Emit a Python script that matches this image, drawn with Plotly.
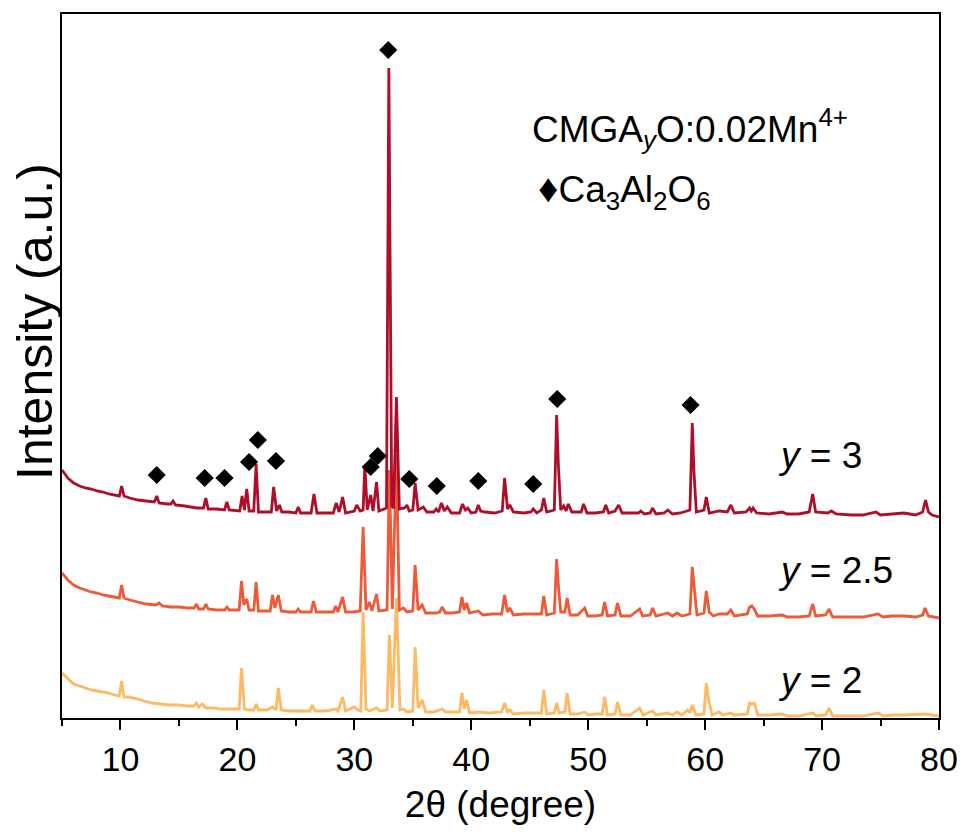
import plotly.graph_objects as go

# ---- data: (2theta in degree, intensity in a.u. incl. stacking offset) ----
pattern_y3 = [
    (5.0, 248), (5.5, 240), (6.0, 235), (6.5, 232), (7.0, 230), (7.5, 229), (8.0, 227), (8.5, 226),
    (9.0, 224), (9.5, 223), (9.9, 222), (10.1, 232), (10.3, 222), (10.8, 220), (11.5, 218), (12.2, 217),
    (12.9, 216), (13.1, 222), (13.3, 215), (14.0, 214), (14.3, 214), (14.5, 217), (14.7, 213), (15.5, 212),
    (16.5, 210), (17.1, 210), (17.3, 220), (17.5, 209), (18.2, 209), (18.9, 208), (19.1, 216), (19.3, 208),
    (20.2, 207), (20.4, 222), (20.6, 208), (20.8, 229), (21.0, 207), (21.4, 207), (21.6, 254), (21.8, 206),
    (22.4, 206), (22.9, 206), (23.1, 231), (23.35, 207), (23.6, 213), (23.8, 206), (24.4, 206), (25.0, 205),
    (25.2, 211), (25.4, 205), (26.3, 205), (26.55, 224), (26.8, 205), (27.5, 205), (28.2, 205), (28.45, 215),
    (28.7, 206), (29.0, 221), (29.25, 205), (30.0, 207), (30.2, 213), (30.5, 207), (30.75, 208), (30.9, 253),
    (31.1, 208), (31.4, 223), (31.6, 207), (31.9, 236), (32.1, 207), (32.75, 210), (32.95, 650), (33.2, 212),
    (33.35, 210), (33.6, 321), (33.85, 209), (34.3, 210), (34.5, 213), (34.7, 207), (35.0, 208), (35.2, 235),
    (35.45, 208), (35.9, 211), (36.2, 206), (36.8, 206), (37.0, 209), (37.2, 206), (37.45, 215), (37.7, 207),
    (37.95, 211), (38.3, 205), (39.0, 205), (39.25, 214), (39.5, 208), (39.7, 210), (40.0, 205), (40.4, 206),
    (40.6, 213), (40.8, 207), (41.2, 206), (42.0, 205), (42.65, 207), (42.85, 240), (43.1, 209), (43.3, 213),
    (43.6, 206), (44.5, 205), (45.1, 206), (45.3, 209), (45.6, 205), (46.0, 208), (46.2, 220), (46.45, 206),
    (47.1, 208), (47.3, 303), (47.45, 253), (47.65, 208), (47.9, 212), (48.1, 207), (48.3, 214), (48.6, 206),
    (49.4, 206), (49.6, 214), (49.9, 205), (50.6, 205), (51.3, 206), (51.5, 213), (51.75, 205), (52.3, 207),
    (52.6, 213), (52.9, 205), (53.6, 205), (54.3, 205), (54.5, 207), (54.8, 204), (55.3, 205), (55.5, 210),
    (55.8, 204), (56.5, 205), (56.8, 208), (57.2, 204), (57.9, 205), (58.7, 208), (58.9, 295), (59.05, 245),
    (59.25, 206), (59.9, 208), (60.1, 221), (60.35, 205), (61.2, 207), (61.9, 206), (62.2, 213), (62.5, 205),
    (63.5, 206), (63.8, 210), (63.95, 207), (64.1, 210), (64.4, 205), (65.5, 204), (66.6, 206), (67.0, 204),
    (68.0, 204), (68.9, 206), (69.2, 224), (69.45, 206), (70.5, 205), (70.8, 207), (71.2, 204), (72.5, 203),
    (73.5, 203), (74.6, 206), (75.0, 203), (76.0, 204), (77.0, 205), (78.0, 203), (78.6, 206), (78.85, 218),
    (79.1, 206), (79.4, 203), (80.0, 201),
]

pattern_y25 = [
    (5.0, 145), (5.5, 138), (6.0, 133), (6.5, 130), (7.0, 128), (7.5, 126), (8.0, 125), (8.5, 123),
    (9.0, 122), (9.5, 121), (9.9, 120), (10.1, 133), (10.3, 120), (10.8, 118), (11.5, 116), (12.2, 114),
    (13.0, 113), (13.3, 115), (13.6, 112), (14.3, 111), (15.0, 111), (15.7, 110), (16.3, 110), (16.5, 114),
    (16.7, 109), (17.1, 109), (17.3, 114), (17.5, 109), (18.2, 108), (18.9, 108), (19.1, 111), (19.3, 108),
    (20.15, 108), (20.35, 137), (20.55, 113), (20.8, 119), (21.0, 108), (21.4, 108), (21.6, 136), (21.8, 107),
    (22.3, 107), (22.8, 107), (23.0, 123), (23.2, 110), (23.5, 123), (23.75, 107), (24.4, 106), (25.0, 106),
    (25.2, 109), (25.4, 106), (26.3, 106), (26.5, 117), (26.75, 106), (27.5, 106), (28.2, 106), (28.4, 112),
    (28.6, 106), (29.0, 121), (29.25, 106), (29.9, 106), (30.5, 107), (30.75, 191), (31.0, 108), (31.3, 116),
    (31.5, 107), (31.9, 124), (32.1, 107), (32.8, 108), (33.0, 248), (33.25, 109), (33.6, 263), (33.85, 108),
    (34.2, 110), (34.5, 106), (35.0, 107), (35.2, 153), (35.45, 108), (35.8, 113), (36.1, 105), (37.0, 105),
    (37.3, 106), (37.5, 111), (37.8, 105), (38.4, 105), (39.0, 106), (39.2, 121), (39.4, 108), (39.6, 115),
    (39.85, 105), (40.6, 107), (41.0, 103), (41.8, 104), (42.6, 104), (42.85, 123), (43.1, 106), (43.3, 110),
    (43.6, 103), (44.5, 104), (45.3, 104), (46.0, 104), (46.2, 122), (46.45, 103), (47.1, 105), (47.3, 159),
    (47.45, 133), (47.65, 106), (48.0, 106), (48.2, 120), (48.45, 103), (49.1, 103), (49.7, 110), (49.95, 102),
    (50.6, 102), (51.2, 103), (51.4, 116), (51.65, 102), (52.3, 103), (52.5, 115), (52.8, 102), (53.6, 102),
    (54.4, 109), (54.65, 102), (55.3, 103), (55.5, 110), (55.8, 102), (56.8, 105), (57.2, 102), (57.6, 105),
    (58.0, 102), (58.7, 104), (58.9, 151), (59.05, 133), (59.3, 103), (59.9, 105), (60.1, 127), (60.35, 106),
    (60.7, 102), (61.2, 104), (61.9, 104), (62.2, 108), (62.5, 102), (63.6, 104), (63.8, 111), (64.0, 112),
    (64.2, 109), (64.5, 102), (65.5, 102), (66.6, 103), (67.0, 101), (68.0, 101), (68.9, 102), (69.2, 114),
    (69.45, 102), (70.3, 103), (70.6, 109), (70.9, 101), (72.0, 101), (73.5, 101), (74.8, 104), (75.2, 101),
    (76.0, 102), (77.0, 102), (78.0, 101), (78.6, 103), (78.8, 110), (79.1, 102), (80.0, 100),
]

pattern_y2 = [
    (5.0, 45), (5.5, 39), (6.0, 34), (6.5, 32), (7.0, 30), (7.5, 28), (8.0, 27), (8.5, 26),
    (9.0, 25), (9.5, 23), (9.9, 22), (10.1, 37), (10.3, 21), (10.8, 21), (11.0, 20), (11.5, 19),
    (12.0, 17), (12.7, 15), (13.5, 14), (14.2, 13), (15.0, 13), (15.7, 12), (16.3, 12), (16.5, 15),
    (16.7, 11), (17.0, 14), (17.3, 10), (18.0, 10), (18.5, 9), (19.1, 9), (19.7, 9), (20.15, 9),
    (20.35, 50), (20.6, 9), (21.0, 8), (21.4, 8), (21.6, 14), (21.8, 8), (22.5, 8), (23.0, 11),
    (23.3, 8), (23.5, 30), (23.75, 8), (24.4, 7), (25.0, 7), (25.6, 7), (26.2, 7), (26.4, 13),
    (26.65, 7), (27.5, 7), (28.4, 9), (28.6, 7), (29.0, 21), (29.25, 7), (30.0, 11), (30.3, 8),
    (30.55, 7), (30.75, 106), (31.0, 9), (31.3, 7), (31.9, 10), (32.2, 7), (32.8, 8), (33.0, 83),
    (33.25, 10), (33.6, 120), (33.9, 8), (34.2, 9), (34.5, 6), (35.0, 7), (35.2, 71), (35.45, 10),
    (35.8, 18), (36.1, 6), (36.8, 6), (37.5, 9), (37.8, 6), (38.5, 6), (39.0, 6), (39.2, 25),
    (39.4, 9), (39.6, 18), (39.85, 5), (40.6, 6), (41.5, 5), (42.6, 6), (42.85, 15), (43.1, 6),
    (43.3, 8), (43.6, 4), (44.5, 5), (45.3, 5), (46.0, 5), (46.2, 28), (46.45, 4), (47.1, 5),
    (47.3, 15), (47.5, 5), (48.0, 6), (48.2, 25), (48.45, 4), (49.1, 4), (49.7, 6), (50.0, 3),
    (50.6, 4), (51.2, 4), (51.4, 21), (51.65, 3), (52.3, 4), (52.5, 16), (52.8, 3), (53.6, 3),
    (54.4, 10), (54.7, 3), (55.5, 7), (55.8, 3), (56.8, 5), (57.2, 3), (57.6, 6), (58.0, 3),
    (58.5, 8), (58.7, 5), (58.9, 13), (59.2, 3), (59.9, 4), (60.1, 35), (60.3, 18), (60.6, 3),
    (61.2, 6), (61.5, 3), (62.2, 5), (62.5, 3), (63.6, 4), (63.8, 15), (64.0, 14), (64.2, 15),
    (64.5, 3), (65.5, 3), (66.6, 4), (67.0, 2), (68.0, 2), (69.2, 5), (69.5, 2), (70.3, 3),
    (70.6, 10), (70.9, 2), (72.0, 2), (73.5, 2), (74.8, 5), (75.2, 2), (76.0, 3), (77.0, 3),
    (78.8, 4), (80.0, 2),
]

# Ca3Al2O6 reflections marked above the y = 3 pattern
mark_x = [13.1, 17.2, 18.9, 21.0, 21.75, 23.3, 31.4, 32.0, 32.9, 34.7, 37.05, 40.6, 45.3, 47.35, 58.75]
mark_i = [243, 240, 240, 256, 278, 257, 251, 262, 668, 239, 232, 237, 234, 319, 313]

x_ticks = [10, 20, 30, 40, 50, 60, 70, 80]
series_labels = ["<i>y</i> = 2", "<i>y</i> = 2.5", "<i>y</i> = 3"]
colors = ["#FDB964", "#EC5A37", "#AE0E2A"]

FONT = "Liberation Sans, Arial, sans-serif"

fig = go.Figure()
for pat, c in [(pattern_y2, colors[0]), (pattern_y25, colors[1]), (pattern_y3, colors[2])]:
    xs = [p[0] for p in pat]
    ys = [p[1] for p in pat]
    fig.add_trace(go.Scatter(x=xs, y=ys, mode="lines",
                             line=dict(color=c, width=2.8), showlegend=False))

fig.add_trace(go.Scatter(x=mark_x, y=mark_i, mode="markers",
                         marker=dict(symbol="diamond", size=14, color="black"),
                         showlegend=False))

# plot frame at page x 62-939, y 14-718 (body margin removed by post_script below)
fig.update_layout(
    width=962, height=834,
    margin=dict(l=62, r=23, t=14, b=116),
    paper_bgcolor="white", plot_bgcolor="white",
    font=dict(family=FONT, color="black", size=35),
    xaxis=dict(range=[5, 80], tickvals=x_ticks, ticks="outside", ticklen=10, tickwidth=2,
               tickcolor="black", showline=True, linecolor="black", linewidth=2, mirror=True,
               showgrid=False, zeroline=False, automargin=False,
               minor=dict(dtick=5, tick0=5, ticks="outside", ticklen=6, tickwidth=2,
                          tickcolor="black", showgrid=False),
               tickfont=dict(size=34),
               title=dict(text="2θ (degree)", font=dict(size=37), standoff=14)),
    yaxis=dict(range=[0, 704], showticklabels=False, ticks="", showline=True, automargin=False,
               linecolor="black", linewidth=2, mirror=True, showgrid=False, zeroline=False),
)

fig.add_annotation(text="Intensity (a.u.)", xref="paper", yref="paper",
                   x=(35 - 62) / 877, y=(718 - 322) / 704, textangle=-90, showarrow=False,
                   font=dict(size=50), xanchor="center", yanchor="middle")

fig.add_annotation(text="CMGA<sub><i>y</i></sub>O:0.02Mn<sup>4+</sup>", xref="paper", yref="paper",
                   x=(530 - 62) / 877, y=(718 - 128) / 704, showarrow=False,
                   xanchor="left", yanchor="middle", font=dict(size=37))
fig.add_annotation(text="<span style='font-size:40px'>♦</span>Ca<sub>3</sub>Al<sub>2</sub>O<sub>6</sub>",
                   xref="paper", yref="paper",
                   x=(536 - 62) / 877, y=(718 - 190) / 704, showarrow=False,
                   xanchor="left", yanchor="middle", font=dict(size=37))

label_py = [680, 570, 455]
for lab, py in zip(series_labels, label_py):
    fig.add_annotation(text=lab, xref="paper", yref="paper",
                       x=(776 - 62) / 877, y=(718 - py) / 704, showarrow=False,
                       xanchor="left", yanchor="middle", font=dict(size=37))

fig.write_html(
    "out.html",
    config={"displayModeBar": False},
    post_script=("document.documentElement.style.overflow='hidden';"
                 "document.body.style.margin='0px';"
                 "document.body.style.overflow='hidden';"),
)
